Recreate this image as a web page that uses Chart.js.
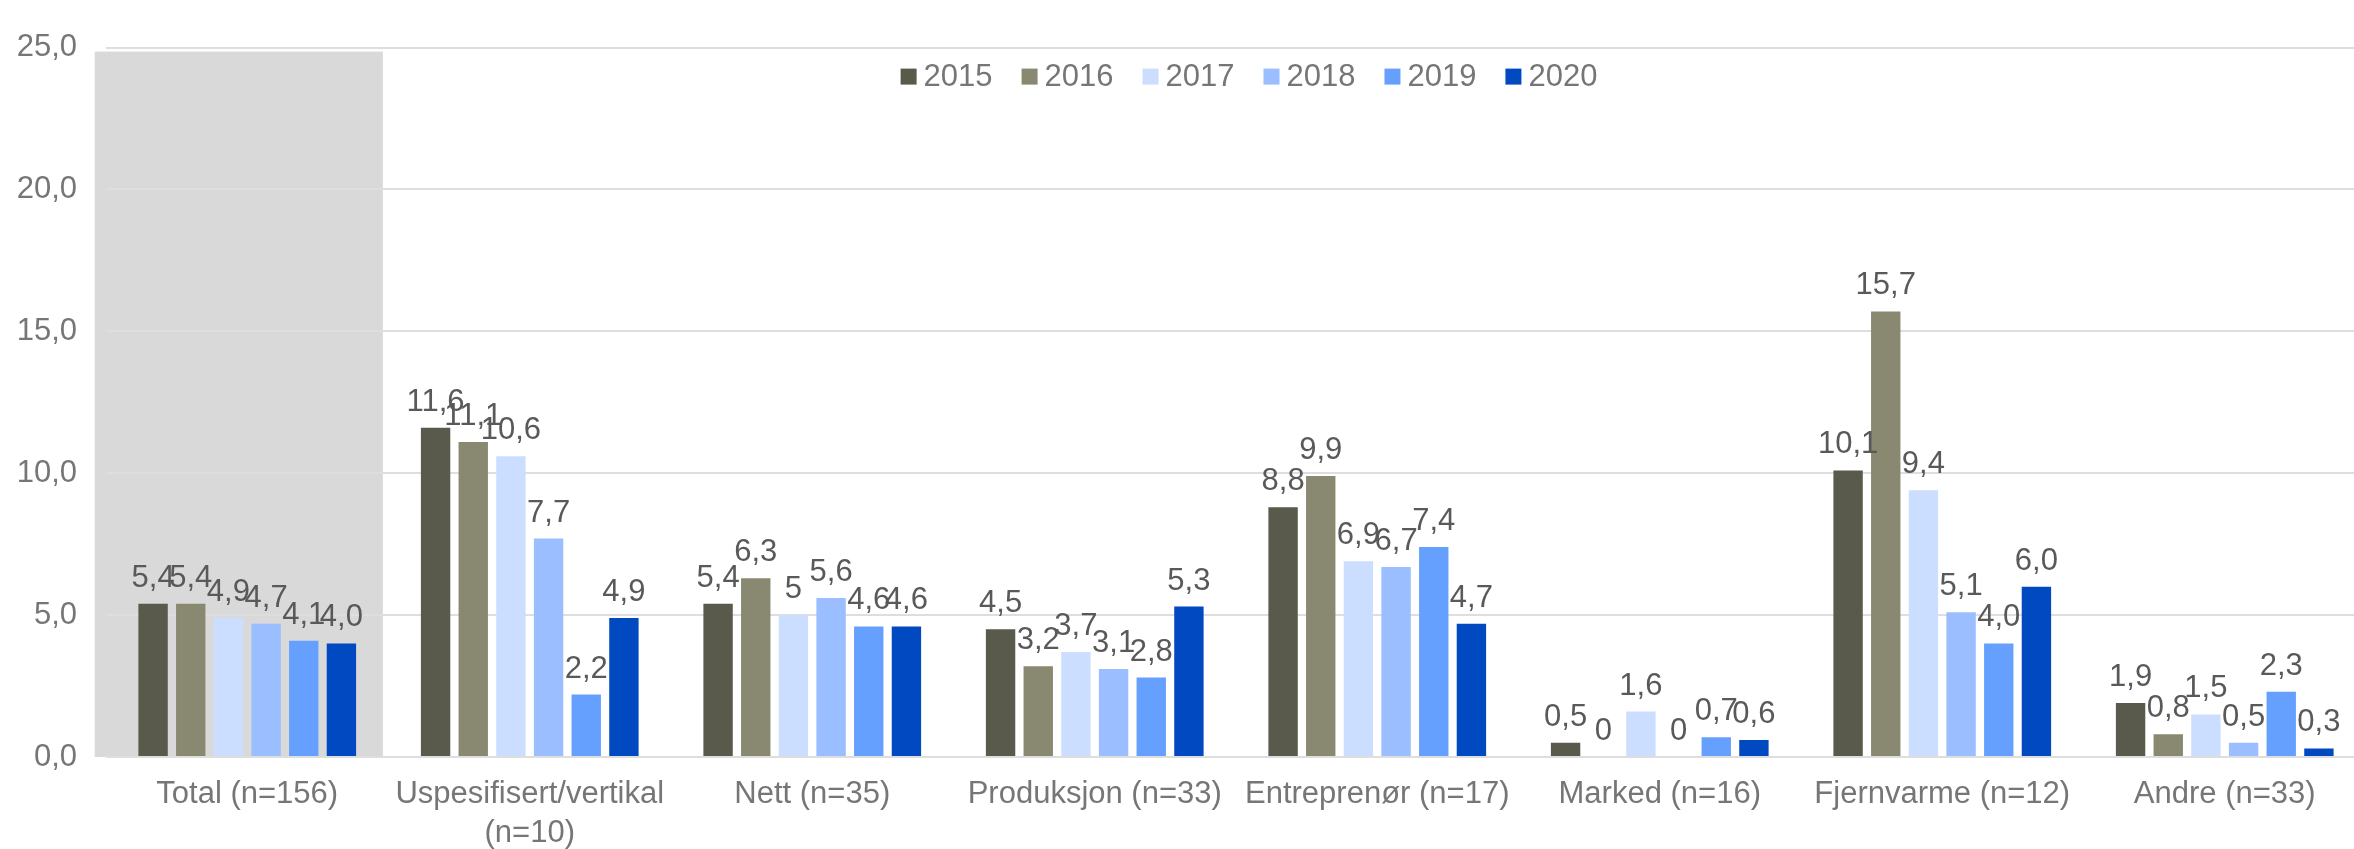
<!DOCTYPE html>
<html>
<head>
<meta charset="utf-8">
<script src="https://cdn.jsdelivr.net/npm/chart.js@4.4.1/dist/chart.umd.min.js"></script>
<style>
  html, body { margin: 0; padding: 0; background: #fff; overflow: hidden; }
  #wrap { width: 2370px; height: 849px; }
</style>
</head>
<body>
<div id="wrap"><canvas id="chart" width="2370" height="849"></canvas></div>
<script>
const categories = [
    'Total (n=156)',
    ['Uspesifisert/vertikal', '(n=10)'],
    'Nett (n=35)',
    'Produksjon (n=33)',
    'Entreprenør (n=17)',
    'Marked (n=16)',
    'Fjernvarme (n=12)',
    'Andre (n=33)'
];

const years = ['2015', '2016', '2017', '2018', '2019', '2020'];
const yearColors = ['#595A4B', '#898870', '#CCDEFF', '#9ABEFF', '#66A0FF', '#0049C0'];

const v2015 = [5.4, 11.6, 5.4, 4.5, 8.8, 0.5, 10.1, 1.9];
const v2016 = [5.4, 11.1, 6.3, 3.2, 9.9, 0, 15.7, 0.8];
const v2017 = [4.9, 10.6, 5, 3.7, 6.9, 1.6, 9.4, 1.5];
const v2018 = [4.7, 7.7, 5.6, 3.1, 6.7, 0, 5.1, 0.5];
const v2019 = [4.1, 2.2, 4.6, 2.8, 7.4, 0.7, 4.0, 2.3];
const v2020 = [4.0, 4.9, 4.6, 5.3, 4.7, 0.6, 6.0, 0.3];

// labels shown without a decimal in the source: [category, series]
const plainLabels = [[2, 2], [5, 1], [5, 3]];

const yTicks = [0, 5, 10, 15, 20, 25];

const FONT = '"Liberation Sans", Arial, sans-serif';
const TEXT_GREY = '#767676';
const LABEL_GREY = '#595959';

const fmt = v => v.toFixed(1).replace('.', ',');

// grey highlight behind the Total group
const highlightPlugin = {
    id: 'highlight',
    beforeDraw: (chart) => {
        const x = chart.scales.x;
        const y = chart.scales.y;
        const c0 = x.getPixelForValue(0);
        const band = x.getPixelForValue(1) - c0;
        const ctx = chart.ctx;
        ctx.save();
        ctx.fillStyle = '#D9D9D9';
        const top = y.getPixelForValue(24.86);
        ctx.fillRect(c0 - band * 0.54, top, band * 1.02, y.getPixelForValue(0) - top);
        ctx.restore();
    }
};

// value labels above each bar
const valueLabelPlugin = {
    id: 'valueLabels',
    afterDatasetsDraw: (chart) => {
        const ctx = chart.ctx;
        ctx.save();
        ctx.font = '31px ' + FONT;
        ctx.fillStyle = LABEL_GREY;
        ctx.textAlign = 'center';
        ctx.textBaseline = 'alphabetic';
        chart.data.datasets.forEach((ds, si) => {
            const meta = chart.getDatasetMeta(si);
            meta.data.forEach((bar, ci) => {
                const v = ds.data[ci];
                const plain = plainLabels.some(p => p[0] === ci && p[1] === si);
                const text = plain ? String(v) : fmt(v);
                ctx.fillText(text, bar.x, bar.y - 17);
            });
        });
        ctx.restore();
    }
};

// legend drawn inside the plot area
const insideLegendPlugin = {
    id: 'insideLegend',
    afterDraw: (chart) => {
        const ctx = chart.ctx;
        const area = chart.chartArea;
        ctx.save();
        ctx.font = '31px ' + FONT;
        const box = 16, gapText = 7, gapItem = 29;
        const widths = chart.data.datasets.map(ds => box + gapText + ctx.measureText(ds.label).width);
        const total = widths.reduce((a, b) => a + b, 0) + gapItem * (widths.length - 1);
        let x = (area.left + area.right) / 2 - total / 2 + 13;
        const yc = area.top + 29;
        ctx.textBaseline = 'middle';
        ctx.textAlign = 'left';
        chart.data.datasets.forEach((ds, i) => {
            ctx.fillStyle = ds.backgroundColor;
            ctx.fillRect(x, yc - box / 2, box, box);
            ctx.fillStyle = TEXT_GREY;
            ctx.fillText(ds.label, x + box + gapText, yc + 1);
            x += widths[i] + gapItem;
        });
        ctx.restore();
    }
};

const seriesValues = [v2015, v2016, v2017, v2018, v2019, v2020];

new Chart(document.getElementById('chart').getContext('2d'), {
    type: 'bar',
    data: {
        labels: categories,
        datasets: years.map((yr, i) => ({
            label: yr,
            data: seriesValues[i],
            backgroundColor: yearColors[i],
            borderWidth: 0,
            categoryPercentage: 0.8,
            barPercentage: 0.78
        }))
    },
    options: {
        responsive: false,
        animation: false,
        layout: { padding: { left: 15, right: 4, top: 27, bottom: 0 } },
        plugins: {
            legend: { display: false },
            tooltip: { enabled: false }
        },
        scales: {
            x: {
                grid: { display: false, drawTicks: false },
                border: { display: false },
                ticks: {
                    color: TEXT_GREY,
                    font: { family: FONT, size: 31, lineHeight: 1.25 },
                    padding: 18,
                    maxRotation: 0,
                    autoSkip: false
                },
                afterFit: (s) => { s.height = 92; }
            },
            y: {
                min: 0,
                max: 25,
                afterBuildTicks: (s) => { s.ticks = yTicks.map(v => ({ value: v })); },
                grid: { color: '#DEDEDE', lineWidth: 2, drawTicks: false },
                border: { display: false },
                ticks: {
                    color: TEXT_GREY,
                    font: { family: FONT, size: 31 },
                    padding: 29,
                    callback: (v) => fmt(v)
                },
                afterFit: (s) => { s.width = 91; }
            }
        }
    },
    plugins: [highlightPlugin, valueLabelPlugin, insideLegendPlugin]
});
</script>
</body>
</html>
